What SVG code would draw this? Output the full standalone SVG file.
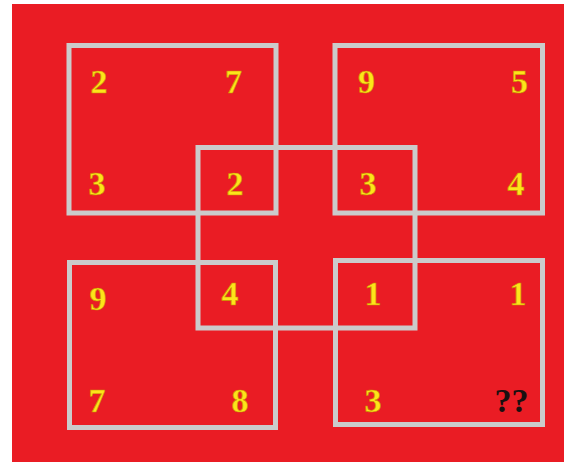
<svg xmlns="http://www.w3.org/2000/svg" width="564" height="462" viewBox="0 0 564 462">
<style>
.sq{fill:none;stroke:#cbcbcb;stroke-width:5}
.n{font-family:"Liberation Serif","Times New Roman",serif;font-weight:bold;font-size:34px;fill:#fde41a;stroke:#c89000;stroke-width:0.6;text-anchor:middle}
.q{fill:#1a1010;stroke:none}
</style>
<rect x="0" y="0" width="564" height="462" fill="#ffffff"/>
<rect x="12" y="4" width="552" height="458" fill="#ea1c24"/>
<g id="squares">
<rect id="sq-tl" class="sq" x="69" y="45.5" width="207" height="167.5"/>
<rect id="sq-tr" class="sq" x="335" y="45.5" width="207.5" height="167.5"/>
<rect id="sq-c" class="sq" x="198" y="147.5" width="217" height="180.5"/>
<rect id="sq-bl" class="sq" x="69.5" y="262.5" width="206" height="165"/>
<rect id="sq-br" class="sq" x="335.5" y="260.5" width="207" height="164"/>
</g>
<g id="numbers">
<text class="n" x="99" y="93">2</text>
<text class="n" x="233.5" y="93">7</text>
<text class="n" x="366.5" y="93">9</text>
<text class="n" x="519.5" y="93">5</text>
<text class="n" x="97" y="195">3</text>
<text class="n" x="235" y="195">2</text>
<text class="n" x="368" y="195">3</text>
<text class="n" x="516" y="195">4</text>
<text class="n" x="98" y="310">9</text>
<text class="n" x="230" y="305">4</text>
<text class="n" x="373" y="305">1</text>
<text class="n" x="518" y="305">1</text>
<text class="n" x="97" y="412">7</text>
<text class="n" x="240" y="412">8</text>
<text class="n" x="373" y="412">3</text>
<text class="n q" x="511.5" y="412">??</text>
</g>
</svg>
